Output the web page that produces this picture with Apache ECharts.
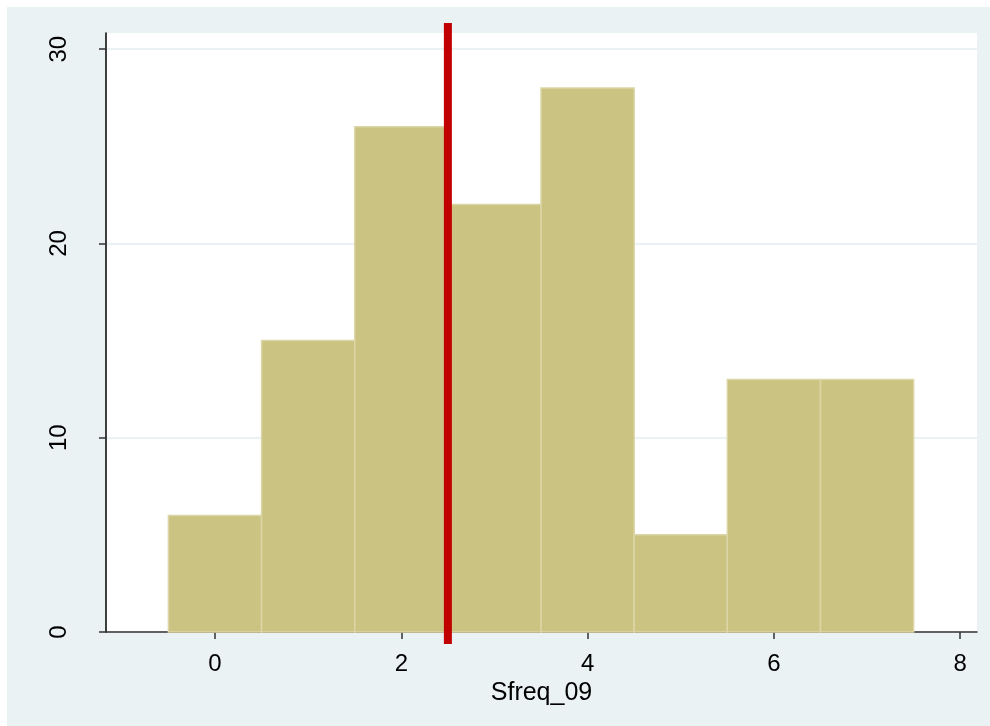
<!DOCTYPE html>
<html>
<head>
<meta charset="utf-8">
<script src="https://cdn.jsdelivr.net/npm/echarts@6/dist/echarts.min.js"></script>
<style>
html,body{margin:0;padding:0;background:#fff;}
#c{width:990px;height:726px;}
</style>
</head>
<body>
<div id="c"></div>
<script>
var binCenters = [0, 1, 2, 3, 4, 5, 6, 7];
var frequencies = [6, 15, 26, 22, 28, 5, 13, 13];
var xTickValues = [0, 2, 4, 6, 8];
var yTickValues = [0, 10, 20, 30];
var refLineX = 2.5;
var xAxisTitle = 'Sfreq_09';

var binData = binCenters.map(function (c, i) { return [c, frequencies[i]]; });

var chart = echarts.init(document.getElementById('c'), null, {renderer: 'canvas'});
var font = 'Liberation Sans, Arial, sans-serif';
chart.setOption({
  animation: false,
  backgroundColor: '#fff',
  graphic: [{
    type: 'rect', z: -10, silent: true,
    shape: {x: 7, y: 7, width: 983, height: 719},
    style: {fill: '#EAF2F3'}
  }],
  grid: {
    left: 106, right: 13, top: 33, bottom: 94,
    show: true, backgroundColor: '#ffffff', borderWidth: 0
  },
  xAxis: {
    type: 'value', min: -1.17, max: 8.18,
    name: xAxisTitle, nameLocation: 'middle', nameGap: 45,
    nameTextStyle: {fontFamily: font, fontSize: 25, color: '#000'},
    axisLine: {show: true, onZero: false, lineStyle: {color: '#333', width: 1.5}},
    axisTick: {show: true, length: 7, customValues: xTickValues, lineStyle: {color: '#333', width: 1.5}},
    axisLabel: {customValues: xTickValues, margin: 20, fontFamily: font, fontSize: 24, color: '#000'},
    splitLine: {show: false}
  },
  yAxis: {
    type: 'value', min: 0, max: 30.83,
    axisLine: {show: true, onZero: false, lineStyle: {color: '#000', width: 1.5}},
    axisTick: {show: true, length: 7, customValues: yTickValues, lineStyle: {color: '#333', width: 1.5}},
    axisLabel: {customValues: yTickValues, rotate: 90, margin: 35, fontFamily: font, fontSize: 24, color: '#000'},
    splitLine: {show: true, lineStyle: {color: '#EAF2F3', width: 2}}
  },
  series: [{
    type: 'custom',
    data: binData,
    renderItem: function (params, api) {
      var c = api.value(0), v = api.value(1);
      var p0 = api.coord([c - 0.5, 0]);
      var p1 = api.coord([c + 0.5, v]);
      return {
        type: 'rect',
        shape: {x: p0[0], y: p1[1], width: p1[0] - p0[0], height: p0[1] - p1[1]},
        style: {fill: '#CBC382', stroke: '#DCD6A6', lineWidth: 1.5}
      };
    },
    z: 2
  }, {
    type: 'custom',
    data: [[refLineX]],
    clip: false,
    renderItem: function (params, api) {
      var x = api.coord([api.value(0), 0])[0];
      var yb = api.coord([api.value(0), 0])[1];
      var yt = params.coordSys.y;
      return {
        type: 'line',
        shape: {x1: x, y1: yt - 10, x2: x, y2: yb + 12},
        style: {stroke: '#C10000', lineWidth: 8}
      };
    },
    z: 5
  }]
});
</script>
</body>
</html>
